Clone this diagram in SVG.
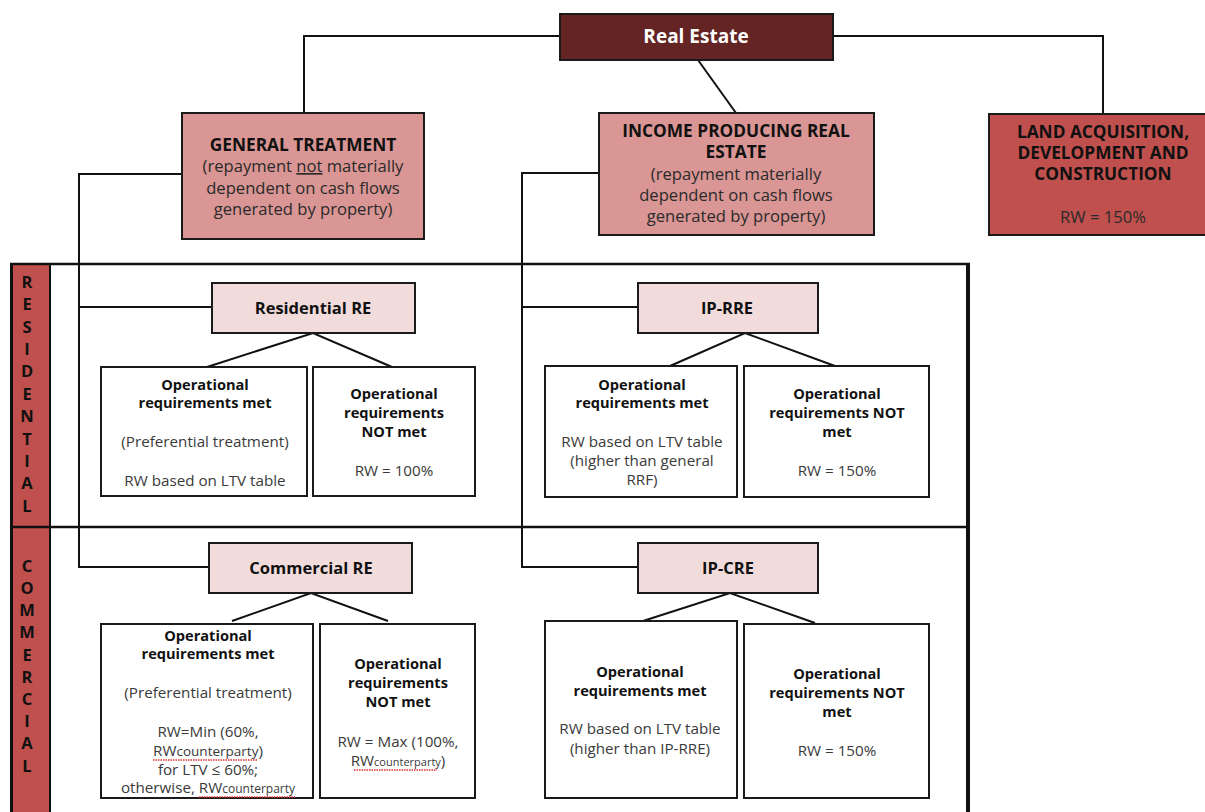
<svg xmlns="http://www.w3.org/2000/svg" width="1205" height="812" viewBox="0 0 1205 812">
<style>
text{font-family:"Open Sans","Liberation Sans",sans-serif;text-anchor:middle}
.b{font-weight:bold;fill:#111}
.top{font-size:17.3px}
.tr{font-size:16.6px;fill:#2a2a2a}
.lb{font-size:14.6px;font-weight:bold;fill:#111}
.lr{font-size:15.2px;fill:#3a3a3a}
.side{font-size:16.5px;font-weight:bold;fill:#111}
.box{stroke:#1a1a1a;stroke-width:2}
.conn{fill:none;stroke:#111;stroke-width:2}
.sq{fill:none;stroke:#e03030;stroke-width:1.3;stroke-dasharray:1.5 1}
</style>
<rect width="1205" height="812" fill="#ffffff"/>

<!-- frame and side column -->
<g id="frame">
<rect x="12" y="264" width="38" height="560" fill="#c0504d"/>
<line x1="10" y1="264" x2="970" y2="264" stroke="#111" stroke-width="2.5"/>
<line x1="968" y1="263" x2="968" y2="812" stroke="#111" stroke-width="4"/>
<line x1="11.5" y1="263" x2="11.5" y2="812" stroke="#111" stroke-width="3"/>
<line x1="50" y1="264" x2="50" y2="812" stroke="#111" stroke-width="2"/>
<line x1="10" y1="527" x2="968" y2="527" stroke="#111" stroke-width="2.5"/>
</g>
<g id="side-residential">
<text class="side" x="27" y="288">R</text>
<text class="side" x="27" y="310">E</text>
<text class="side" x="27" y="333">S</text>
<text class="side" x="27" y="355">I</text>
<text class="side" x="27" y="377">D</text>
<text class="side" x="27" y="400">E</text>
<text class="side" x="27" y="422">N</text>
<text class="side" x="27" y="445">T</text>
<text class="side" x="27" y="467">I</text>
<text class="side" x="27" y="489">A</text>
<text class="side" x="27" y="512">L</text>
</g>
<g id="side-commercial">
<text class="side" x="27" y="572">C</text>
<text class="side" x="27" y="594">O</text>
<text class="side" x="27" y="616">M</text>
<text class="side" x="27" y="638">M</text>
<text class="side" x="27" y="661">E</text>
<text class="side" x="27" y="683">R</text>
<text class="side" x="27" y="705">C</text>
<text class="side" x="27" y="727">I</text>
<text class="side" x="27" y="749">A</text>
<text class="side" x="27" y="772">L</text>
</g>

<!-- connectors -->
<g id="connectors" class="conn">
<polyline points="560,36 304,36 304,113"/>
<polyline points="833,36 1103,36 1103,114"/>
<line x1="698" y1="60" x2="736" y2="113"/>
<polyline points="182,174 79,174 79,567 209,567"/>
<line x1="79" y1="307" x2="212" y2="307"/>
<polyline points="599,173 522,173 522,567 638,567"/>
<line x1="522" y1="307" x2="638" y2="307"/>
<polyline points="207,367 313,333 392,367"/>
<polyline points="670,366 745,333 835,366"/>
<polyline points="232,621 311,593 388,621"/>
<polyline points="643,621 730,593 815,623"/>
</g>

<g id="real-estate">
<rect x="560" y="14" width="273" height="46" fill="#632423" class="box"/>
<text x="696" y="43" class="b" style="font-size:19px;fill:#ffffff">Real Estate</text>
</g>

<g id="general-treatment">
<rect x="182" y="113" width="242" height="126" fill="#d99694" class="box"/>
<text x="303" y="151" class="b top">GENERAL TREATMENT</text>
<text x="303" y="172" class="tr">(repayment <tspan text-decoration="underline">not</tspan> materially</text>
<text x="303" y="194" class="tr">dependent on cash flows</text>
<text x="303" y="215" class="tr">generated by property)</text>
</g>

<g id="income-producing">
<rect x="599" y="113" width="275" height="122" fill="#d99694" class="box"/>
<text x="736" y="137" class="b top">INCOME PRODUCING REAL</text>
<text x="736" y="158" class="b top">ESTATE</text>
<text x="736" y="180" class="tr">(repayment materially</text>
<text x="736" y="201" class="tr">dependent on cash flows</text>
<text x="736" y="222" class="tr">generated by property)</text>
</g>

<g id="land-adc">
<rect x="989" y="114" width="230" height="121" fill="#c0504d" class="box"/>
<text x="1103" y="138" class="b top">LAND ACQUISITION,</text>
<text x="1103" y="159" class="b top">DEVELOPMENT AND</text>
<text x="1103" y="180" class="b top">CONSTRUCTION</text>
<text x="1103" y="223" class="tr">RW = 150%</text>
</g>

<g id="residential-re">
<rect x="212" y="283" width="203" height="50" fill="#f2dcdb" class="box"/>
<text x="313" y="314" class="b" style="font-size:16.5px">Residential RE</text>
</g>
<g id="res-met">
<rect x="101" y="367" width="206" height="129" fill="#ffffff" class="box"/>
<text x="205" y="390" class="lb">Operational</text>
<text x="205" y="408" class="lb">requirements met</text>
<text x="205" y="447" class="lr">(Preferential treatment)</text>
<text x="205" y="486" class="lr">RW based on LTV table</text>
</g>
<g id="res-not-met">
<rect x="313" y="367" width="162" height="129" fill="#ffffff" class="box"/>
<text x="394" y="399" class="lb">Operational</text>
<text x="394" y="418" class="lb">requirements</text>
<text x="394" y="437" class="lb">NOT met</text>
<text x="394" y="476" class="lr">RW = 100%</text>
</g>

<g id="ip-rre">
<rect x="638" y="283" width="180" height="50" fill="#f2dcdb" class="box"/>
<text x="727" y="314" class="b" style="font-size:16.5px">IP-RRE</text>
</g>
<g id="iprre-met">
<rect x="545" y="366" width="192" height="131" fill="#ffffff" class="box"/>
<text x="642" y="390" class="lb">Operational</text>
<text x="642" y="408" class="lb">requirements met</text>
<text x="642" y="447" class="lr">RW based on LTV table</text>
<text x="642" y="466" class="lr">(higher than general</text>
<text x="642" y="485" class="lr">RRF)</text>
</g>
<g id="iprre-not-met">
<rect x="744" y="366" width="185" height="131" fill="#ffffff" class="box"/>
<text x="837" y="399" class="lb">Operational</text>
<text x="837" y="418" class="lb">requirements NOT</text>
<text x="837" y="437" class="lb">met</text>
<text x="837" y="476" class="lr">RW = 150%</text>
</g>

<g id="commercial-re">
<rect x="209" y="543" width="203" height="50" fill="#f2dcdb" class="box"/>
<text x="311" y="574" class="b" style="font-size:16.5px">Commercial RE</text>
</g>
<g id="com-met">
<rect x="101" y="624" width="212" height="174" fill="#ffffff" class="box"/>
<text x="208" y="641" class="lb">Operational</text>
<text x="208" y="659" class="lb">requirements met</text>
<text x="208" y="698" class="lr">(Preferential treatment)</text>
<text x="208" y="737" class="lr">RW=Min (60%,</text>
<text x="208" y="756" class="lr">RW<tspan style="font-size:13.5px">counterparty</tspan>)</text>
<text x="208" y="775" class="lr">for LTV ≤ 60%;</text>
<text x="208" y="793" class="lr">otherwise, RW<tspan style="font-size:12px">counterparty</tspan></text>
<line class="sq" x1="153" y1="760" x2="258" y2="760"/>
<line class="sq" x1="199" y1="797" x2="295" y2="797"/>
</g>
<g id="com-not-met">
<rect x="320" y="624" width="155" height="174" fill="#ffffff" class="box"/>
<text x="398" y="669" class="lb">Operational</text>
<text x="398" y="688" class="lb">requirements</text>
<text x="398" y="707" class="lb">NOT met</text>
<text x="398" y="747" class="lr">RW = Max (100%,</text>
<text x="398" y="766" class="lr">RW<tspan style="font-size:11px">counterparty</tspan>)</text>
<line class="sq" x1="354" y1="770" x2="437" y2="770"/>
</g>

<g id="ip-cre">
<rect x="638" y="543" width="180" height="50" fill="#f2dcdb" class="box"/>
<text x="728" y="574" class="b" style="font-size:16.5px">IP-CRE</text>
</g>
<g id="ipcre-met">
<rect x="545" y="621" width="192" height="177" fill="#ffffff" class="box"/>
<text x="640" y="677" class="lb">Operational</text>
<text x="640" y="696" class="lb">requirements met</text>
<text x="640" y="734" class="lr">RW based on LTV table</text>
<text x="640" y="754" class="lr">(higher than IP-RRE)</text>
</g>
<g id="ipcre-not-met">
<rect x="744" y="624" width="185" height="174" fill="#ffffff" class="box"/>
<text x="837" y="679" class="lb">Operational</text>
<text x="837" y="698" class="lb">requirements NOT</text>
<text x="837" y="717" class="lb">met</text>
<text x="837" y="756" class="lr">RW = 150%</text>
</g>
</svg>
